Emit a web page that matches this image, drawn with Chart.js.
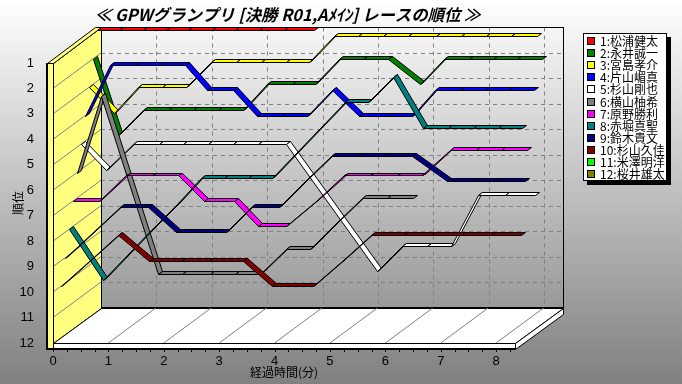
<!DOCTYPE html>
<html>
<head>
<meta charset="utf-8">
<title>GPW</title>
<script src="https://cdn.jsdelivr.net/npm/chart.js@4/dist/chart.umd.js"></script>
<style>
  html, body { margin: 0; padding: 0; background: #fff; }
  #wrap { width: 682px; height: 384px; }
</style>
</head>
<body>
<div id="wrap"><canvas id="graph"></canvas></div>
<script>
// driver names, in legend order
var names = ["1:松浦健太", "2:永井誠一", "3:宮島孝介", "4:片山嵋真", "5:杉山剛也", "6:横山柚希",
  "7:原野勝利", "8:赤堀真聖", "9:鈴木貴文", "10:杉山久佳", "11:米澤明洋", "12:桜井雄太"];
var colors = ["#ff0000", "#008000", "#ffff00", "#0000ff", "#ffffff", "#808080",
  "#ff00ff", "#008080", "#000080", "#800000", "#00ff00", "#808000"];

// elapsed minutes and rank at each lap
var times1 = [0, 0.4, 0.83, 1.25, 1.65, 2.08, 2.5, 2.92, 3.38, 3.92];
var ranks1 = [1, 1, 1, 1, 1, 1, 1, 1, 1, 1];
var times2 = [0, 0.45, 0.9, 1.35, 1.8, 2.25, 2.7, 3.15, 3.6, 4.0, 4.44, 4.88, 5.32, 5.9, 6.34, 6.78, 7.22, 7.66, 8.1];
var ranks2 = [2, 5, 4, 4, 4, 4, 4, 3, 3, 3, 2, 2, 2, 3, 2, 2, 2, 2, 2];
var times3 = [0, 0.45, 0.88, 1.32, 1.75, 2.2, 2.65, 3.1, 3.55, 3.97, 4.42, 4.86, 5.31, 5.76, 6.26, 6.71, 7.17, 7.62, 8.09];
var ranks3 = [3, 4, 3, 3, 3, 2, 2, 2, 2, 2, 1, 1, 1, 1, 1, 1, 1, 1, 1];
var times4 = [0, 0.45, 0.9, 1.35, 1.8, 2.2, 2.67, 3.1, 3.55, 4.0, 4.45, 4.95, 5.45, 5.9, 6.32, 6.77, 7.22, 7.66, 8.1];
var ranks4 = [4, 2, 2, 2, 2, 3, 3, 4, 4, 4, 3, 4, 4, 4, 3, 3, 3, 3, 3];
var times5 = [0, 0.45, 0.94, 1.4, 1.85, 2.3, 2.75, 3.2, 3.7, 5.34, 5.8, 6.24, 6.68, 7.16, 7.66, 8.2];
var ranks5 = [5, 6, 5, 5, 5, 5, 5, 5, 5, 10, 9, 9, 9, 7, 7, 7];
var times6 = [0, 0.43, 1.46, 1.9, 2.4, 2.85, 3.3, 3.77, 4.2, 4.67, 5.14, 5.6, 6.07];
var ranks6 = [6, 3, 10, 10, 10, 10, 10, 9, 9, 8, 7, 7, 7];
var times7 = [0, 0.47, 0.96, 1.43, 1.9, 2.37, 2.9, 3.34, 3.85, 4.38, 4.9, 5.37, 5.84, 6.3, 6.8, 7.27, 7.72, 8.2];
var ranks7 = [7, 7, 6, 6, 6, 7, 7, 8, 8, 7, 6, 6, 6, 6, 5, 5, 5, 5];
var times8 = [0, 0.61, 1.05, 1.5, 1.95, 2.38, 2.8, 3.23, 3.66, 4.1, 4.54, 4.98, 5.4, 5.85, 6.39, 6.85, 7.3, 7.75, 8.18];
var ranks8 = [8, 10, 9, 8, 7, 6, 6, 6, 6, 5, 4, 3, 3, 2, 4, 4, 4, 4, 4];
var times9 = [0, 0.5, 1.0, 1.5, 2.0, 2.45, 2.9, 3.36, 3.86, 4.33, 4.8, 5.29, 5.76, 6.26, 6.9, 7.35, 7.8, 8.3];
var ranks9 = [9, 8, 7, 7, 8, 8, 8, 7, 7, 6, 5, 5, 5, 5, 6, 6, 6, 6];
var times10 = [0, 0.5, 1.03, 1.59, 2.17, 2.67, 3.28, 3.8, 4.55, 5.08, 5.6, 6.17, 6.68, 7.22, 7.76, 8.3];
var ranks10 = [10, 9, 8, 9, 9, 9, 9, 10, 10, 9, 8, 8, 8, 8, 8, 8];
var times11 = [];
var ranks11 = [];
var times12 = [];
var ranks12 = [];

var allTimes = [times1, times2, times3, times4, times5, times6, times7, times8, times9, times10, times11, times12];
var allRanks = [ranks1, ranks2, ranks3, ranks4, ranks5, ranks6, ranks7, ranks8, ranks9, ranks10, ranks11, ranks12];

var CJK = '"Noto Sans CJK JP", sans-serif';
var DEPTH_X = 48, DEPTH_Y = 35.5;   // how far the back wall is shifted from the front plane
var SLAB = 6;                       // thickness of wall and floor

function snap(v) { return Math.round(v) + 0.5; }

// outline is snapped to the pixel grid so the black edges stay crisp
function poly(ctx, pts, fill) {
  ctx.beginPath();
  pts.forEach(function(p, i) {
    if (i) ctx.lineTo(snap(p[0]), snap(p[1]));
    else ctx.moveTo(snap(p[0]), snap(p[1]));
  });
  ctx.closePath();
  ctx.fillStyle = fill;
  ctx.fill();
  ctx.strokeStyle = '#000';
  ctx.lineWidth = 1;
  ctx.stroke();
}

// page gradient, walls, floor and the grid
var backdrop = {
  id: 'backdrop',
  beforeDraw: function(chart) {
    var ctx = chart.ctx, a = chart.chartArea, xs = chart.scales.x, ys = chart.scales.y;
    var l = a.left, r = a.right, t = a.top, b = a.bottom;
    var g = ctx.createLinearGradient(0, 0, 0, chart.height);
    g.addColorStop(0, '#ffffff');
    g.addColorStop(1, '#808080');
    ctx.save();
    ctx.fillStyle = g;
    ctx.fillRect(0, 0, chart.width, chart.height);

    // left wall and floor
    poly(ctx, [[l, t], [l + DEPTH_X, t - DEPTH_Y], [l + DEPTH_X, b - DEPTH_Y], [l, b]], '#ffff80');
    poly(ctx, [[l, b], [l + DEPTH_X, b - DEPTH_Y], [r + DEPTH_X, b - DEPTH_Y], [r, b]], '#ffffff');

    // back wall grid
    ctx.strokeStyle = '#808080';
    ctx.lineWidth = 1;
    ctx.setLineDash([4, 4]);
    ctx.beginPath();
    ys.ticks.forEach(function(tk) {
      var y = snap(ys.getPixelForValue(tk.value) - DEPTH_Y);
      if (tk.value > 1 && tk.value < 12) { ctx.moveTo(l + DEPTH_X, y); ctx.lineTo(r + DEPTH_X, y); }
    });
    xs.ticks.forEach(function(tk) {
      var x = snap(xs.getPixelForValue(tk.value) + DEPTH_X);
      if (tk.value > 0) { ctx.moveTo(x, t - DEPTH_Y); ctx.lineTo(x, b - DEPTH_Y); }
    });
    ctx.stroke();
    ctx.setLineDash([]);

    // grid running through the depth on wall and floor
    ctx.beginPath();
    ys.ticks.forEach(function(tk) {
      var y = ys.getPixelForValue(tk.value);
      if (tk.value > 1 && tk.value < 12) { ctx.moveTo(l, y); ctx.lineTo(l + DEPTH_X, y - DEPTH_Y); }
    });
    xs.ticks.forEach(function(tk) {
      var x = xs.getPixelForValue(tk.value);
      if (tk.value > 0) { ctx.moveTo(x, b); ctx.lineTo(x + DEPTH_X, b - DEPTH_Y); }
    });
    ctx.stroke();

    // back wall outline
    ctx.strokeStyle = '#000';
    ctx.strokeRect(snap(l + DEPTH_X), snap(t - DEPTH_Y), r - l, b - t);

    // wall top, wall front, floor front, floor end
    poly(ctx, [[l - SLAB, t], [l, t], [l + DEPTH_X, t - DEPTH_Y], [l + DEPTH_X - SLAB, t - DEPTH_Y]], '#ffff80');
    poly(ctx, [[l - SLAB, t], [l, t], [l, b + SLAB], [l - SLAB, b + SLAB]], '#ffff80');
    poly(ctx, [[r, b], [r + DEPTH_X, b - DEPTH_Y], [r + DEPTH_X, b - DEPTH_Y + SLAB], [r, b + SLAB]], '#ffffff');
    poly(ctx, [[l, b], [r, b], [r, b + SLAB], [l, b + SLAB]], '#ffffff');

    // heavy front edges
    ctx.fillStyle = '#000';
    ctx.fillRect(l - SLAB - 1, t, 2, b + SLAB - t + 1);
    ctx.fillRect(l - SLAB - 1, b + SLAB - 1, r - l + SLAB + 1, 2);

    // minor ticks under the floor
    for (var v = 0; v <= xs.max; v += 0.25) {
      var tx = Math.round(xs.getPixelForValue(v));
      ctx.fillRect(tx, b + SLAB + 1, 1, 2);
    }
    ctx.restore();
  }
};

// every driver is a ribbon at his own depth, back to front from the first driver
var ribbons = {
  id: 'ribbons',
  afterDatasetsDraw: function(chart) {
    var ctx = chart.ctx, n = chart.data.datasets.length;
    ctx.save();
    chart.data.datasets.forEach(function(ds, i) {
      var pts = chart.getDatasetMeta(i).data;
      var zBack = (n - i) / n, zFront = (n - i - 1) / n;
      for (var k = 0; k < pts.length - 1; k++) {
        var p = pts[k], q = pts[k + 1];
        poly(ctx, [
          [p.x + DEPTH_X * zFront, p.y - DEPTH_Y * zFront],
          [q.x + DEPTH_X * zFront, q.y - DEPTH_Y * zFront],
          [q.x + DEPTH_X * zBack, q.y - DEPTH_Y * zBack],
          [p.x + DEPTH_X * zBack, p.y - DEPTH_Y * zBack]
        ], ds.borderColor);
      }
    });
    ctx.restore();
  }
};

// legend box to the right of the chart
var sideLegend = {
  id: 'sideLegend',
  afterDraw: function(chart) {
    var ctx = chart.ctx;
    var left = 583, top = 33, w = 84, h = 148, rowH = 12.1;
    ctx.save();
    ctx.fillStyle = '#000';
    ctx.fillRect(left + 4, top + 4, w, h);
    ctx.fillStyle = '#fff';
    ctx.fillRect(left, top, w, h);
    ctx.strokeStyle = '#000';
    ctx.lineWidth = 1;
    ctx.strokeRect(left + 0.5, top + 0.5, w - 1, h - 1);
    ctx.font = '12px ' + CJK;
    ctx.textBaseline = 'middle';
    chart.data.datasets.forEach(function(ds, i) {
      var y = Math.round(top + 8 + i * rowH);
      ctx.fillStyle = ds.borderColor;
      ctx.fillRect(left + 4.5, y - 3.5, 7, 7);
      ctx.strokeRect(left + 4.5, y - 3.5, 7, 7);
      ctx.fillStyle = '#000';
      ctx.fillText(ds.label, left + 17, y);
    });
    ctx.restore();
  }
};

var datasets = names.map(function(name, i) {
  return {
    label: name,
    data: allTimes[i].map(function(t, k) { return { x: t, y: allRanks[i][k] }; }),
    borderColor: colors[i],
    backgroundColor: colors[i],
    showLine: false,
    pointRadius: 0
  };
});

new Chart(document.getElementById('graph').getContext('2d'), {
  type: 'line',
  data: { datasets: datasets },
  plugins: [backdrop, ribbons, sideLegend],
  options: {
    responsive: true,
    maintainAspectRatio: false,
    animation: false,
    layout: { padding: { top: 0, right: 167, bottom: 0, left: 0 } },
    plugins: {
      legend: { display: false },
      tooltip: { enabled: false },
      title: {
        display: true,
        fullSize: false,
        text: '  ≪ GPWグランプリ [決勝 R01,Aﾒｲﾝ] レースの順位 ≫',
        color: '#000',
        font: { family: CJK, size: 16.4, weight: 'bold', style: 'italic', lineHeight: 1.2 },
        padding: { top: 5, bottom: 38.3 }
      }
    },
    scales: {
      x: {
        type: 'linear',
        min: 0,
        max: 8.34,
        grid: { display: false },
        border: { display: false },
        afterFit: function(scale) { scale.height = 41; },
        ticks: {
          stepSize: 1,
          includeBounds: false,
          maxRotation: 0,
          autoSkip: false,
          padding: 3,
          color: '#000',
          font: { family: '"Liberation Sans"', size: 13 }
        },
        title: {
          display: true,
          text: '経過時間(分)',
          color: '#000',
          font: { family: CJK, size: 12 },
          padding: { top: 0, bottom: 4 }
        }
      },
      y: {
        type: 'linear',
        reverse: true,
        min: 1,
        max: 12,
        grid: { display: false },
        border: { display: false },
        afterFit: function(scale) { scale.width = 53; },
        ticks: {
          stepSize: 1,
          padding: 11,
          color: '#000',
          font: { family: '"Liberation Sans"', size: 13 }
        },
        title: {
          display: true,
          text: '順位',
          color: '#000',
          font: { family: CJK, size: 12 },
          padding: { top: 11, bottom: 0 }
        }
      }
    }
  }
});
</script>
</body>
</html>
